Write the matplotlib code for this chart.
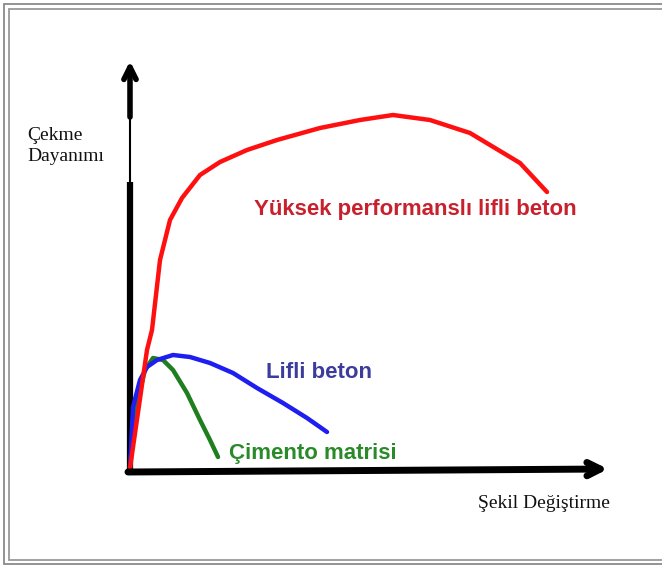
import matplotlib.pyplot as plt

# strain (x) / tensile strength (y) in arbitrary units, origin at the axes corner
hp_strain = [0, 17, 22, 30, 40, 52, 70, 90, 117, 147, 190, 230, 263, 300, 340, 390, 417]
hp_stress = [4, 122, 142, 212, 252, 274, 297, 310, 322, 332, 344, 352, 357, 352, 339, 309, 280]

fiber_strain = [0, 3, 10, 17, 27, 43, 60, 80, 103, 127, 153, 177, 197]
fiber_stress = [4, 65, 92, 105, 112, 117, 115, 109, 99, 84, 69, 54, 40]

matrix_strain = [0, 5, 15, 23, 33, 43, 57, 70, 80, 88]
matrix_stress = [4, 62, 102, 114, 112, 102, 79, 52, 32, 15]

labels = {
    "hp": "Yüksek performanslı lifli beton",
    "fiber": "Lifli beton",
    "matrix": "Çimento matrisi",
}
x_label = "Şekil Değiştirme"
y_label = "Çekme\nDayanımı"

fig = plt.figure(figsize=(6.62, 5.67), dpi=100)
ax = fig.add_axes([0, 0, 1, 1])
ax.set_xlim(-130, 532)
ax.set_ylim(-95, 472)
ax.axis("off")

# double grey frame
for off, bottom, col in [(4, 564, "#8a8a8a"), (9, 560, "#9a9a9a")]:
    x0, x1 = -130 + off, 532 + 5
    y0, y1 = 472 - bottom, 472 - off
    ax.plot([x1, x0, x0, x1], [y1, y1, y0, y0], color=col, lw=1.3,
            solid_joinstyle="miter", clip_on=False)

# axes arrows
ax.plot([0, 0], [-3, 290], color="black", lw=4.5, solid_capstyle="butt")
ax.plot([0, 0], [290, 355], color="black", lw=1.5)
ax.annotate("", xy=(0, 411), xytext=(0, 355),
            arrowprops=dict(arrowstyle="->", lw=4, color="black",
                            mutation_scale=22, shrinkA=0, shrinkB=0))
ax.annotate("", xy=(478, 3), xytext=(-2, 0),
            arrowprops=dict(arrowstyle="->", lw=5, color="black",
                            mutation_scale=24, shrinkA=0, shrinkB=0))

# curves
ax.plot(matrix_strain, matrix_stress, color="#1f7f1f", lw=3.2,
        solid_joinstyle="round", solid_capstyle="round")
ax.plot(fiber_strain, fiber_stress, color="#1e1ef0", lw=3.2,
        solid_joinstyle="round", solid_capstyle="round")
ax.plot(hp_strain, hp_stress, color="#ff1010", lw=3.2,
        solid_joinstyle="round", solid_capstyle="round")

bold = dict(family="Liberation Sans", fontweight="bold", fontsize=16,
            va="center", ha="left")
ax.text(124, 263, labels["hp"], color="#c8202c", **bold)
ax.text(136, 100, labels["fiber"], color="#3c3c9c", **bold)
ax.text(99, 19, labels["matrix"], color="#2a8a2a", **bold)

serif = dict(family="Liberation Serif", fontsize=14, color="#111111")
ax.text(-103, 326, y_label, ha="left", va="center", linespacing=1.3, **serif)
ax.text(348, -32, x_label, ha="left", va="center", **serif)

fig.savefig("out.png", dpi=100)
